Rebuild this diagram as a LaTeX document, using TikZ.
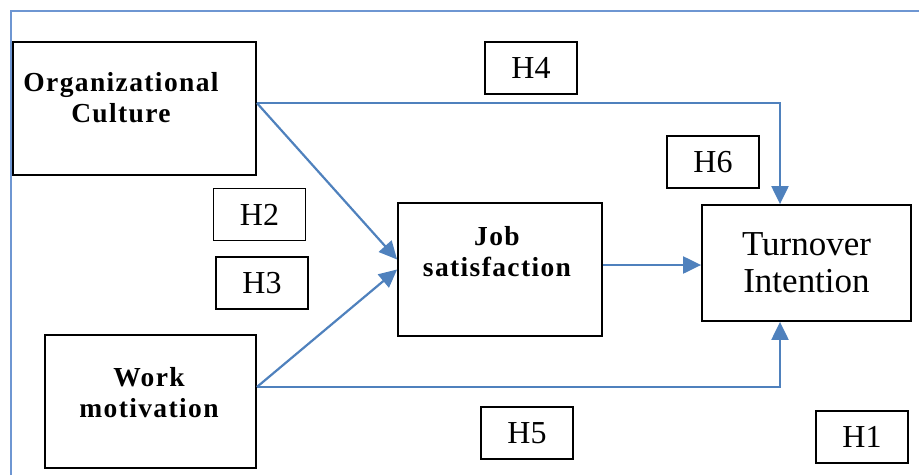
\documentclass[tikz,border=0pt]{standalone}
\usepackage{fontspec}
\setmainfont{Liberation Serif}
\newfontfamily\spacedbold[LetterSpace=5]{Liberation Serif}
\usetikzlibrary{arrows.meta}
\definecolor{lineblue}{RGB}{79,129,189}
\definecolor{frameblue}{RGB}{110,150,210}
\begin{document}
\begin{tikzpicture}[x=1pt,y=-1pt,
  box/.style={draw=black, line width=1.8pt, rectangle, inner sep=0pt},
  hbox/.style={box, minimum width=92pt, minimum height=52pt, font=\fontsize{32}{35}\selectfont},
  conn/.style={draw=lineblue, line width=2.2pt, -{Triangle[length=18pt,width=17pt]}},
  boldtext/.style={font=\spacedbold\bfseries\fontsize{27.5}{31}\selectfont, align=center, inner sep=0pt}
]
\useasboundingbox (0,0) rectangle (919,475);
\draw[frameblue, line width=2pt] (11,475) -- (11,11) -- (919,11);

% main boxes
\node[box, minimum width=243pt, minimum height=133pt] (org) at (134.5,108.5) {};
\node[boldtext] (orgt) at (121,97.5) {Organizational\\Culture};

\node[box, minimum width=211pt, minimum height=133pt] (work) at (150.5,401.5) {};
\node[boldtext] (workt) at (149,392.5) {Work\\motivation};

\node[box, minimum width=204pt, minimum height=133pt] (job) at (500,269.5) {};
\node[boldtext] (jobt) at (497,252) {Job\\satisfaction};

\node[box, minimum width=209pt, minimum height=116pt, align=center,
      font=\fontsize{35}{37}\selectfont] (turn) at (806.5,263) {Turnover\\Intention};

% hypothesis labels
\node[hbox] (h4) at (531,68) {H4};
\node[hbox] (h6) at (713,162) {H6};
\node[hbox] (h2) at (259.5,214.5) {H2};
\node[hbox] (h3) at (262,283) {H3};
\node[hbox] (h5) at (527,433) {H5};
\node[hbox] (h1) at (862,437) {H1};

% connectors
\draw[conn] ([yshift=5.5pt]org.east) -| ([xshift=-26.5pt]turn.north);
\draw[conn] ([yshift=5.5pt]org.east) -- ([yshift=10pt]job.west);
\draw[conn] ([yshift=14.5pt]work.east) -- ([yshift=0pt]job.west);
\draw[conn] ([yshift=14.5pt]work.east) -| ([xshift=-26.5pt]turn.south);
\draw[conn] ([yshift=4.5pt]job.east) -- ([yshift=-2pt]turn.west);
\end{tikzpicture}
\end{document}
